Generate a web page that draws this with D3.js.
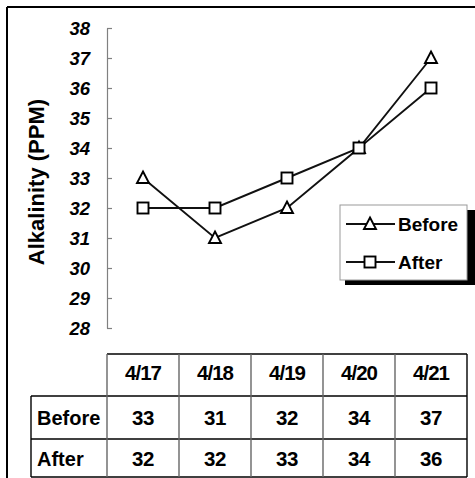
<!DOCTYPE html>
<html>
<head>
<meta charset="utf-8">
<script src="https://cdn.jsdelivr.net/npm/d3@7"></script>
<style>
  html, body { margin: 0; padding: 0; background: #fff; }
  svg { display: block; }
  text { font-family: "Liberation Sans", Arial, sans-serif; font-weight: bold; fill: #000; }
</style>
</head>
<body>
<script>
// Daily alkalinity readings before and after treatment
const dates = ["4/17", "4/18", "4/19", "4/20", "4/21"];
const before = [33, 31, 32, 34, 37];
const after = [32, 32, 33, 34, 36];
const yTicks = [28, 29, 30, 31, 32, 33, 34, 35, 36, 37, 38];
const seriesNames = ["Before", "After"];

const W = 475, H = 478;
const svg = d3.select("body").append("svg").attr("width", W).attr("height", H);

// outer frame (top and left edges visible)
svg.append("line").attr("x1", 7).attr("x2", W + 5).attr("y1", 7).attr("y2", 7)
  .attr("stroke", "#000").attr("stroke-width", 2);
svg.append("line").attr("x1", 7).attr("x2", 7).attr("y1", 7).attr("y2", H + 5)
  .attr("stroke", "#000").attr("stroke-width", 2);

const x = d3.scaleBand().domain(dates).range([107, 467]);
const y = d3.scaleLinear().domain([28, 38]).range([328, 28]);
const cx = d => x(d) + x.bandwidth() / 2;

// y axis with inward ticks
const axisG = svg.append("g").attr("transform", "translate(107,0)")
  .call(d3.axisRight(y).tickValues(yTicks).tickSize(5).tickSizeOuter(0).tickFormat(""));
axisG.select(".domain").attr("stroke", "#808080").attr("stroke-width", 1.2);
axisG.selectAll(".tick line").attr("stroke", "#808080").attr("stroke-width", 1.2);

svg.append("g").selectAll("text").data(yTicks).join("text")
  .attr("x", 90).attr("y", d => y(d) + 6.5)
  .attr("text-anchor", "end")
  .attr("font-style", "italic")
  .attr("font-size", "18.5px")
  .text(d => d);

// y axis title
svg.append("text")
  .attr("transform", "translate(44,182) rotate(-90)")
  .attr("text-anchor", "middle")
  .attr("font-size", "22px")
  .text("Alkalinity (PPM)");

// series lines
const line = d3.line().x((d, i) => cx(dates[i])).y(d => y(d));
[before, after].forEach(vals => {
  svg.append("path").datum(vals).attr("d", line)
    .attr("fill", "none").attr("stroke", "#111").attr("stroke-width", 1.9);
});

// markers
function drawTriangle(g, px, py) {
  g.append("path").attr("d", "M0,-6.5L6,5L-6,5Z")
    .attr("transform", `translate(${px},${py})`)
    .attr("fill", "#fff").attr("stroke", "#000").attr("stroke-width", 1.9);
}
function drawSquare(g, px, py) {
  g.append("rect").attr("x", px - 5.5).attr("y", py - 5.5).attr("width", 11).attr("height", 11)
    .attr("fill", "#fff").attr("stroke", "#000").attr("stroke-width", 1.9);
}
const mk = svg.append("g");
before.forEach((v, i) => drawTriangle(mk, cx(dates[i]), y(v)));
after.forEach((v, i) => drawSquare(mk, cx(dates[i]), y(v)));

// legend
const lg = svg.append("g");
lg.append("rect").attr("x", 345).attr("y", 210).attr("width", 130).attr("height", 75).attr("fill", "#000");
lg.append("rect").attr("x", 340).attr("y", 205).attr("width", 127).attr("height", 75)
  .attr("fill", "#fff").attr("stroke", "#999").attr("stroke-width", 1);
const legY = [224, 262];
seriesNames.forEach((name, i) => {
  lg.append("line").attr("x1", 346).attr("x2", 395).attr("y1", legY[i]).attr("y2", legY[i])
    .attr("stroke", "#111").attr("stroke-width", 1.9);
  if (i === 0) drawTriangle(lg, 370, legY[i]); else drawSquare(lg, 370, legY[i]);
  lg.append("text").attr("x", 398).attr("y", legY[i] + 7)
    .attr("font-size", "19px").text(name);
});

// data table
const tb = svg.append("g");
const rowTop = [354, 396, 439, 477];
const labelLeft = 31;
const hLine = (x1, x2, yy, c) => tb.append("line").attr("x1", x1).attr("x2", x2)
  .attr("y1", yy).attr("y2", yy).attr("stroke", c).attr("stroke-width", 1.4);
const vLine = (xx, y1, y2, c) => tb.append("line").attr("x1", xx).attr("x2", xx)
  .attr("y1", y1).attr("y2", y2).attr("stroke", c).attr("stroke-width", 1.4);

hLine(107, 467, rowTop[0], "#000");
hLine(labelLeft, 467, rowTop[1], "#000");
hLine(labelLeft, 467, rowTop[2], "#000");
hLine(labelLeft, 467, rowTop[3], "#000");
vLine(labelLeft, rowTop[1], rowTop[3], "#000");
dates.forEach(d => vLine(x(d), rowTop[0], rowTop[3], "#666"));
vLine(467, rowTop[0], rowTop[3], "#000");

tb.selectAll("text.hdr").data(dates).join("text").attr("class", "hdr")
  .attr("x", d => cx(d)).attr("y", 380).attr("text-anchor", "middle")
  .attr("font-size", "20.5px").attr("letter-spacing", "-1px").text(d => d);

const rows = [before, after];
const rowBase = [425, 466];
rows.forEach((vals, r) => {
  tb.append("text").attr("x", 37).attr("y", rowBase[r]).attr("font-size", "20px").text(seriesNames[r]);
  vals.forEach((v, i) => {
    tb.append("text").attr("x", cx(dates[i])).attr("y", rowBase[r]).attr("text-anchor", "middle")
      .attr("font-size", "20.5px").attr("letter-spacing", "-0.5px").text(v);
  });
});
</script>
</body>
</html>
